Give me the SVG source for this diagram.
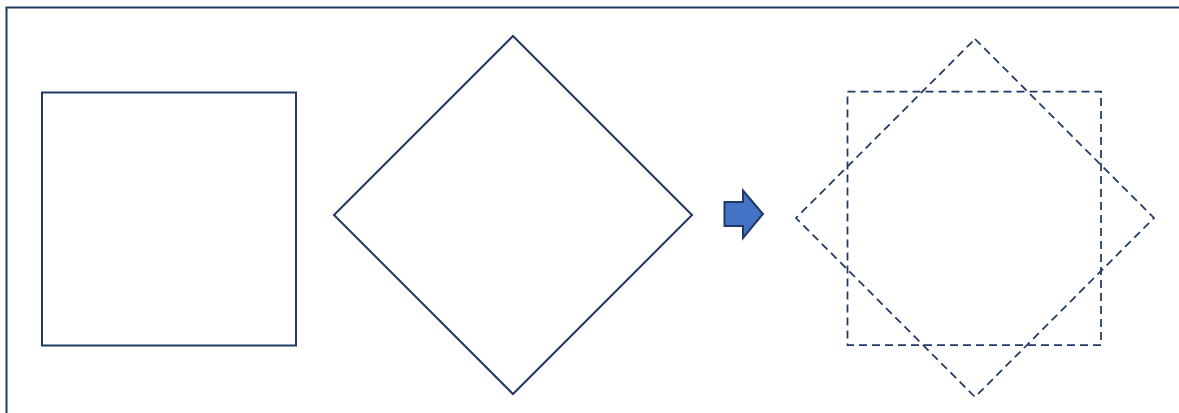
<svg xmlns="http://www.w3.org/2000/svg" width="1179" height="413" viewBox="0 0 1179 413">
<style>
.s{fill:none;stroke:#203864;stroke-width:2}
.d{fill:none;stroke:#203864;stroke-width:1.75;stroke-dasharray:8 5}
</style>
<rect width="1179" height="413" fill="#fff"/>
<g id="frame"><path class="s" d="M6.5 413V7.5H1179"/></g>
<g id="square"><rect class="s" x="42" y="92.5" width="254" height="253"/></g>
<g id="diamond"><polygon class="s" points="513,36 692,215 513,394 334,215"/></g>
<g id="connectors"><polygon points="724.5,202 743,202 743,190.5 763,214 743,238 743,226 724.5,226" fill="#4472C4" stroke="#203864" stroke-width="2"/></g>
<g id="overlay">
<rect class="d" x="847.5" y="91.5" width="253.5" height="253.5"/>
<polygon class="d" points="975,39 1154,218 975,397 796,218"/>
</g>
</svg>
